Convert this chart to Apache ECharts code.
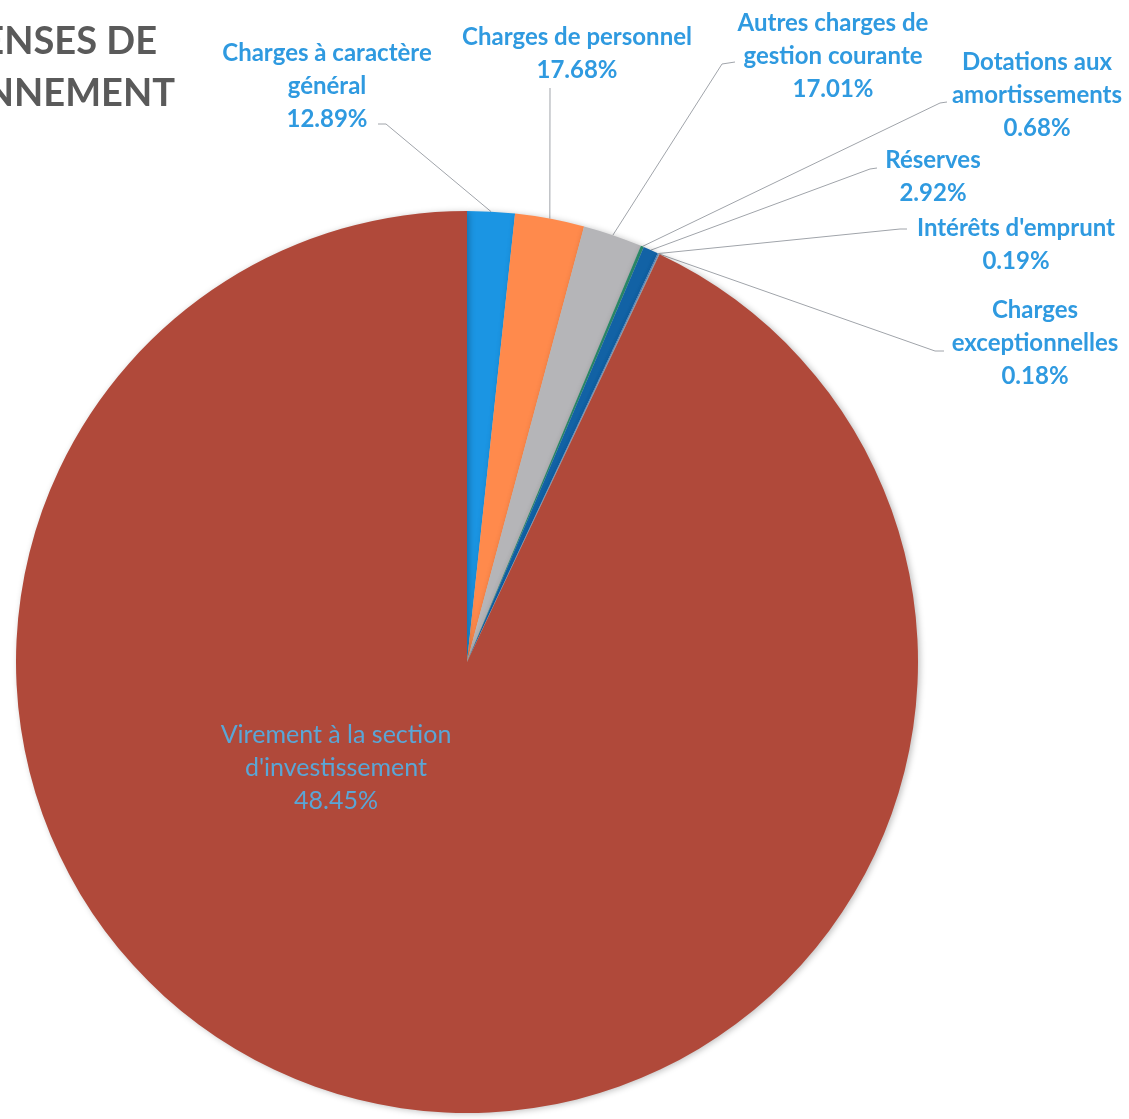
<!DOCTYPE html>
<html>
<head>
<meta charset="utf-8">
<script src="https://cdn.jsdelivr.net/npm/echarts@6/dist/echarts.min.js"></script>
<style>
html,body{margin:0;padding:0;background:#fff;}
#chart{width:1129px;height:1119px;}
</style>
</head>
<body>
<div id="chart"></div>
<script>
// libellés des postes
var categories = [
	'Charges à caractère\ngénéral',
	'Charges de personnel',
	'Autres charges de\ngestion courante',
	'Dotations aux\namortissements',
	'Réserves',
	"Intérêts d'emprunt",
	'Charges\nexceptionnelles',
	"Virement à la section\nd'investissement"
];
// taille des parts telle que dessinée
var sliceValues = [1.70, 2.48, 2.12, 0.11, 0.54, 0.04, 0.03, 92.98];
// pourcentages imprimés sur les étiquettes
var printedPct = ['12.89%', '17.68%', '17.01%', '0.68%', '2.92%', '0.19%', '0.18%', '48.45%'];

var colors = ['#1b95e3', '#ff8a4c', '#b5b5b8', '#2a8a6a', '#1262a5', '#4a7fc0', '#8aa0b0', '#b0493a'];
// position des étiquettes (centre du bloc)
var labelPos = [
	[327, 86], [577, 54], [833, 56], [1037, 95],
	[933, 177], [1016, 245], [1035, 343], [336, 768]
];
// coude et fin des traits de rappel
var lineEnds = [
	[[386, 124], [378, 124]],
	[[550, 88], [550, 88]],
	[[722, 64], [735, 62]],
	[[940, 103], [947, 102]],
	[[870, 169], [877, 168]],
	[[900, 229], [907, 229]],
	[[935, 351], [944, 351]],
	null
];

var chart = echarts.init(document.getElementById('chart'));

var pieData = [];
for (var i = 0; i < categories.length; i++) {
	var item = { name: categories[i], value: sliceValues[i], pct: printedPct[i] };
	if (i == categories.length - 1) {
		item.label = { position: 'inside', fontWeight: 'normal', fontSize: 25, color: '#5aa6d6' };
		item.labelLine = { show: false };
	}
	pieData.push(item);
}

var option = {
	color: colors,
	animation: false,
	graphic: [
		{ type: 'text', right: 1129 - 157, top: 23, style: { text: 'DÉPENSES DE', font: 'bold 38px Lato', fill: '#5a5a5a' } },
		{ type: 'text', right: 1129 - 175, top: 75, style: { text: 'FONCTIONNEMENT', font: 'bold 38px Lato', fill: '#5a5a5a' } }
	],
	series: [{
		type: 'pie',
		center: [467, 662],
		radius: 451,
		startAngle: 90,
		clockwise: true,
		avoidLabelOverlap: false,
		itemStyle: {
			borderWidth: 0,
			shadowBlur: 6,
			shadowOffsetX: 2,
			shadowOffsetY: 1,
			shadowColor: 'rgba(0,0,0,0.25)'
		},
		label: {
			show: true,
			formatter: function (p) { return p.name + '\n' + p.data.pct; },
			fontFamily: 'Lato',
			fontWeight: 'bold',
			fontSize: 24,
			lineHeight: 33,
			color: '#2f9ae0',
			align: 'center'
		},
		labelLine: {
			show: true,
			length: 20,
			length2: 20,
			lineStyle: { color: '#a0a4aa', width: 1 }
		},
		labelLayout: function (params) {
			var i = params.dataIndex;
			var pos = labelPos[i];
			var res = { x: pos[0], y: pos[1], align: 'center', verticalAlign: 'middle' };
			if (lineEnds[i] && params.labelLinePoints) {
				res.labelLinePoints = [params.labelLinePoints[0], lineEnds[i][0], lineEnds[i][1]];
			}
			return res;
		},
		data: pieData
	}]
};
chart.setOption(option);
</script>
</body>
</html>
